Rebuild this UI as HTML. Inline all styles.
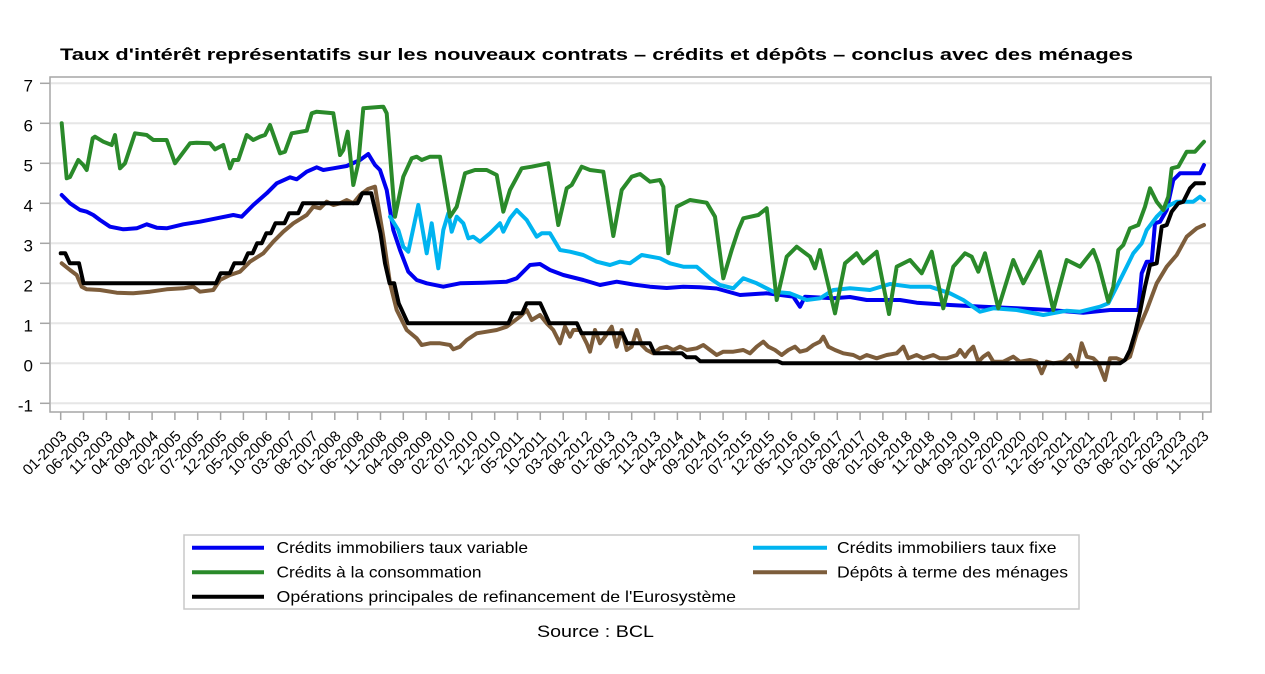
<!DOCTYPE html>
<html>
<head>
<meta charset="utf-8">
<style>
html,body{margin:0;padding:0;background:#fff;}
svg{display:block;}
text{font-family:"Liberation Sans",Arial,sans-serif;fill:#000;}
</style>
</head>
<body>
<svg width="1265" height="674" viewBox="0 0 1265 674" xmlns="http://www.w3.org/2000/svg">
<rect x="0" y="0" width="1265" height="674" fill="#fff"/>
<text x="60" y="60" font-size="17" font-weight="bold" textLength="1073" lengthAdjust="spacingAndGlyphs">Taux d'intérêt représentatifs sur les nouveaux contrats – crédits et dépôts – conclus avec des ménages</text>

<!-- grid -->
<g stroke="#e6e6e6" stroke-width="2">
<line x1="51" y1="83.3" x2="1210" y2="83.3"/>
<line x1="51" y1="123.3" x2="1210" y2="123.3"/>
<line x1="51" y1="163.3" x2="1210" y2="163.3"/>
<line x1="51" y1="203.3" x2="1210" y2="203.3"/>
<line x1="51" y1="243.3" x2="1210" y2="243.3"/>
<line x1="51" y1="283.3" x2="1210" y2="283.3"/>
<line x1="51" y1="323.3" x2="1210" y2="323.3"/>
<line x1="51" y1="363.3" x2="1210" y2="363.3"/>
<line x1="51" y1="403.3" x2="1210" y2="403.3"/>
</g>
<rect x="50" y="77" width="1161" height="335" fill="none" stroke="#a6a6a6" stroke-width="1.5"/>

<!-- y ticks -->
<g stroke="#a6a6a6" stroke-width="1.5">
<line x1="40" y1="83.3" x2="50" y2="83.3"/>
<line x1="40" y1="123.3" x2="50" y2="123.3"/>
<line x1="40" y1="163.3" x2="50" y2="163.3"/>
<line x1="40" y1="203.3" x2="50" y2="203.3"/>
<line x1="40" y1="243.3" x2="50" y2="243.3"/>
<line x1="40" y1="283.3" x2="50" y2="283.3"/>
<line x1="40" y1="323.3" x2="50" y2="323.3"/>
<line x1="40" y1="363.3" x2="50" y2="363.3"/>
<line x1="40" y1="403.3" x2="50" y2="403.3"/>
</g>
<g font-size="17" text-anchor="end">
<text x="33" y="91.6">7</text>
<text x="33" y="131.6">6</text>
<text x="33" y="171.6">5</text>
<text x="33" y="211.6">4</text>
<text x="33" y="251.6">3</text>
<text x="33" y="291.6">2</text>
<text x="33" y="331.6">1</text>
<text x="33" y="371.6">0</text>
<text x="33" y="411.6">-1</text>
</g>

<!-- x ticks -->
<path stroke="#a6a6a6" stroke-width="1.5" fill="none" d="M60.7,412v8M83.5,412v8M106.4,412v8M129.2,412v8M152.1,412v8M174.9,412v8M197.7,412v8M220.6,412v8M243.4,412v8M266.3,412v8M289.1,412v8M311.9,412v8M334.8,412v8M357.6,412v8M380.5,412v8M403.3,412v8M426.1,412v8M449,412v8M471.8,412v8M494.7,412v8M517.5,412v8M540.3,412v8M563.2,412v8M586,412v8M608.9,412v8M631.7,412v8M654.5,412v8M677.4,412v8M700.2,412v8M723.1,412v8M745.9,412v8M768.7,412v8M791.6,412v8M814.4,412v8M837.3,412v8M860.1,412v8M882.9,412v8M905.8,412v8M928.6,412v8M951.5,412v8M974.3,412v8M997.1,412v8M1020,412v8M1042.8,412v8M1065.7,412v8M1088.5,412v8M1111.3,412v8M1134.2,412v8M1157,412v8M1179.9,412v8M1202.7,412v8"/>
<g font-size="15" text-anchor="end">
<text transform="translate(67.7,437) rotate(-45)">01-2003</text>
<text transform="translate(90.5,437) rotate(-45)">06-2003</text>
<text transform="translate(113.4,437) rotate(-45)">11-2003</text>
<text transform="translate(136.2,437) rotate(-45)">04-2004</text>
<text transform="translate(159.1,437) rotate(-45)">09-2004</text>
<text transform="translate(181.9,437) rotate(-45)">02-2005</text>
<text transform="translate(204.7,437) rotate(-45)">07-2005</text>
<text transform="translate(227.6,437) rotate(-45)">12-2005</text>
<text transform="translate(250.4,437) rotate(-45)">05-2006</text>
<text transform="translate(273.3,437) rotate(-45)">10-2006</text>
<text transform="translate(296.1,437) rotate(-45)">03-2007</text>
<text transform="translate(318.9,437) rotate(-45)">08-2007</text>
<text transform="translate(341.8,437) rotate(-45)">01-2008</text>
<text transform="translate(364.6,437) rotate(-45)">06-2008</text>
<text transform="translate(387.5,437) rotate(-45)">11-2008</text>
<text transform="translate(410.3,437) rotate(-45)">04-2009</text>
<text transform="translate(433.1,437) rotate(-45)">09-2009</text>
<text transform="translate(456,437) rotate(-45)">02-2010</text>
<text transform="translate(478.8,437) rotate(-45)">07-2010</text>
<text transform="translate(501.7,437) rotate(-45)">12-2010</text>
<text transform="translate(524.5,437) rotate(-45)">05-2011</text>
<text transform="translate(547.3,437) rotate(-45)">10-2011</text>
<text transform="translate(570.2,437) rotate(-45)">03-2012</text>
<text transform="translate(593,437) rotate(-45)">08-2012</text>
<text transform="translate(615.9,437) rotate(-45)">01-2013</text>
<text transform="translate(638.7,437) rotate(-45)">06-2013</text>
<text transform="translate(661.5,437) rotate(-45)">11-2013</text>
<text transform="translate(684.4,437) rotate(-45)">04-2014</text>
<text transform="translate(707.2,437) rotate(-45)">09-2014</text>
<text transform="translate(730.1,437) rotate(-45)">02-2015</text>
<text transform="translate(752.9,437) rotate(-45)">07-2015</text>
<text transform="translate(775.7,437) rotate(-45)">12-2015</text>
<text transform="translate(798.6,437) rotate(-45)">05-2016</text>
<text transform="translate(821.4,437) rotate(-45)">10-2016</text>
<text transform="translate(844.3,437) rotate(-45)">03-2017</text>
<text transform="translate(867.1,437) rotate(-45)">08-2017</text>
<text transform="translate(889.9,437) rotate(-45)">01-2018</text>
<text transform="translate(912.8,437) rotate(-45)">06-2018</text>
<text transform="translate(935.6,437) rotate(-45)">11-2018</text>
<text transform="translate(958.5,437) rotate(-45)">04-2019</text>
<text transform="translate(981.3,437) rotate(-45)">09-2019</text>
<text transform="translate(1004.1,437) rotate(-45)">02-2020</text>
<text transform="translate(1027,437) rotate(-45)">07-2020</text>
<text transform="translate(1049.8,437) rotate(-45)">12-2020</text>
<text transform="translate(1072.7,437) rotate(-45)">05-2021</text>
<text transform="translate(1095.5,437) rotate(-45)">10-2021</text>
<text transform="translate(1118.3,437) rotate(-45)">03-2022</text>
<text transform="translate(1141.2,437) rotate(-45)">08-2022</text>
<text transform="translate(1164,437) rotate(-45)">01-2023</text>
<text transform="translate(1186.9,437) rotate(-45)">06-2023</text>
<text transform="translate(1209.7,437) rotate(-45)">11-2023</text>
</g>

<!-- series -->
<g fill="none" stroke-width="4" stroke-linejoin="round" stroke-linecap="round">
<!-- Blue: variable -->
<polyline stroke="#0000f0" points="61.7,195 70,203.3 80,210 86.7,211.7 93.3,215 100,220 110,226.7 123.3,229.3 136.7,228.3 146.7,224.3 156.7,227.7 166.7,228.3 183.3,224.3 200,221.7 216.7,218.3 233.3,215 241.7,216.7 253.3,205 266.7,193.3 276.7,183.3 290,177.3 296.7,179.3 306.7,171.7 316.7,167.3 323.3,170 333.3,168.3 346.7,166 360,160 368.3,154 375,165 380,170 386.7,190 393.3,230 400,250 408.3,271.7 416.7,280 426.7,283.3 443.3,286.7 460,283.3 483.3,282.7 506.7,281.7 516.7,278.3 530,265 540,264 550,270 563.3,275 583.3,280 600,285 616.7,281.7 633.3,284.5 650,286.7 666.7,288 683.3,286.7 700,287.3 716.7,288.5 740,295 766.7,293.3 793.3,296.7 800,306.7 805,296.7 833.3,298.3 850,297 866.7,300 883.3,300 900,300 916.7,302.7 950,305 983.3,306.7 1016.7,308.3 1050,310 1083.3,312.7 1110,310 1138.3,310 1141.7,273.3 1146.7,261.7 1151.7,261.7 1155,223.3 1160,221.7 1166.7,210 1173.3,180 1180,173.3 1200,173.3 1204,165"/>
<!-- Light blue: fixed -->
<polyline stroke="#00b4f0" points="390,216.7 398.3,230 403.3,246.7 408.3,251.7 418.3,205 426.7,253.3 431.7,223.3 438.3,268.3 443.3,230 448.3,213.3 451.7,231.7 456.7,216.7 463.3,223.3 468.3,238.3 473.3,236.7 480,241.7 490,233.3 500,223.3 503.3,231.7 510,218.3 516.7,210 526.7,220 536.7,236.7 541.7,233.3 550,233.3 560,250 570,251.7 583.3,255 596.7,261.7 610,265 620,261.7 630,263.3 641.7,255 660,258.3 670,263.3 683.3,266.7 696.7,266.7 710,278.3 720,285 733.3,288.3 743.3,278.3 756.7,283.3 773.3,291.7 790,293.3 806.7,300 820,298.3 833.3,290 850,288.3 870,290 890,284 910,286.7 930,286.7 950,293.3 963.3,300 980,311.7 993.3,308.3 1016.7,310 1043.3,315 1066.7,310.7 1080,311.7 1100,306.7 1108.3,303.3 1116.7,286.7 1126.7,266.7 1133.3,253.3 1141.7,243.3 1146.7,230 1156.7,216.7 1166.7,206.7 1176.7,201.7 1193.3,201.7 1200,196.7 1204,200"/>
<!-- Green: consumer credit -->
<polyline stroke="#2a8a2a" points="61.7,123.3 66.7,178.3 70,177 78.3,160 83.3,165 86.7,170 92.7,138.3 95,136.7 103.3,141.7 111.7,145 115,135 120,168.3 125,163.3 135,133.3 146.7,135 153.3,140 166.7,140 175,163.3 190,143.3 196.7,142.7 210,143.3 215,149.3 223.3,145 230,168.3 233.3,160 238.3,160 246.7,135 253.3,140 260,136.7 265,135 270,125 280,153.3 285,151.7 291.7,133.3 306.7,130.7 311.7,113.3 316.7,111.7 333.3,113.3 340,155 343.3,150 347.7,131.7 353.3,185 358.3,163.3 363.3,108.3 383.3,106.7 386.7,113.3 395,216.7 403.3,176.7 411.7,158.3 416.7,156.7 421.7,160 430,156.7 440,156.7 450,216.7 456.7,206.7 465,173.3 475,170 486.7,170 496.7,175 503.3,211.7 510,190 521.7,168.3 531.7,166.7 548.3,163.3 558.3,225 566.7,188.3 571.7,185 581.7,166.7 590,170 603.3,171.7 613.3,236 621.7,190 631.7,176.7 640,174 650,181.7 660,180 663.3,186.7 668.3,253.3 676.7,206.7 690,200 706.7,202.7 715,216.7 723.3,278.3 731.7,250 738.3,230 743.3,218.3 758.3,215 766.7,208.3 776.7,300 786.7,256.7 796.7,246.7 810,256.7 815,268.3 820,250 835,313.3 845,263.3 856.7,253.3 863.3,263.3 876.7,251.7 889,314 896.7,266.7 910,260 921.7,273.3 931.7,251.7 943.3,308.3 953.3,266.7 965,253.3 971.7,256.7 978.3,271.7 985,253.3 998.3,308.3 1013.3,260 1023.3,283.3 1040,251.7 1053.3,310 1066.7,260 1080,266.7 1093.3,250 1098.3,263.3 1108.3,301.7 1113.3,286.7 1118.3,250 1123.3,245 1130,228.3 1138.3,225 1145,206.7 1150,188.3 1156.7,201.7 1163.3,210 1168.3,196.7 1171.7,168.3 1178.3,166.7 1186.7,151.7 1195,151.7 1204,141.7"/>
<!-- Brown: deposits -->
<polyline stroke="#7d5d3b" points="61.7,263.3 70,270 76.7,275 81.7,286.7 86.7,289.3 100,290 116.7,292.7 133.3,293.3 150,291.7 166.7,289.3 183.3,288.3 193.3,286.7 200,291.7 213.3,290 220,280 230,275 240,271.7 250,261.7 263.3,253.3 273.3,241.7 283.3,231.7 293.3,223.3 306.7,215 313.3,206.7 320,208.3 326.7,201.7 333.3,205 340,203.3 346.7,200 353.3,203.3 360,195 368,189 375,186.7 383.3,236.7 390,283.3 396.7,310 406.7,330 416.7,338.3 421.7,345 430,343.3 440,343.3 450,345 453.3,349.3 460,346.7 466.7,340 476.7,333.3 486.7,331.7 496.7,330 506.7,326.7 513.3,321.7 520,316.7 526.7,310 531.7,320 540,315 546.7,323.3 553.3,330 560,343.3 565,326.7 570,336.7 573.3,330 580,330 586.7,343.3 590,351.7 595,330 600,343.3 605,336.7 611.7,326.7 616.7,346.7 621.7,330 626.7,350 631.7,346.7 636.7,330 641.7,345 646.7,350 653.3,353.3 660,348.3 666.7,346.7 673.3,350 680,346.7 686.7,350 696.7,348.3 703.3,345 710,350 716.7,355 723.3,351.7 733.3,351.7 743.3,350 750,353.3 756.7,346.7 763.3,341.7 768.3,346.7 775,350 781.7,355 788.3,350 795,346.7 800,351.7 806.7,350 813.3,345 820,341.7 823.3,336.7 828.3,346.7 835,350 843.3,353.3 853.3,355 860,358.3 866.7,355 876.7,358.3 886.7,355 896.7,353.3 903.3,346.7 908.3,358.3 916.7,355 923.3,358.3 933.3,355 940,358.3 946.7,358.3 956.7,355 960,350 965,356.7 968.3,351.7 973.3,346.7 978.3,361.7 983.3,356.7 988.3,353.3 993.3,361.7 1003.3,361.7 1013.3,356.7 1020,361.7 1030,360 1036.7,361.7 1041.7,373.3 1046.7,361.7 1053.3,363.3 1063.3,361.7 1070,355 1076.7,366.7 1081.7,343.3 1086.7,356.7 1093.3,358.3 1098.3,363.3 1105,380 1110,358.3 1116.7,358.3 1123.3,361 1130,356.7 1136.7,333.3 1146.7,310 1156.7,283.3 1166.7,266.7 1176.7,255 1186.7,236.7 1196.7,228.3 1204,225"/>
<!-- Black: MRO -->
<polyline stroke="#000" points="60.7,253.3 65.3,253.3 69.8,263.3 79,263.3 83.5,283.3 216,283.3 220.6,273.3 229.7,273.3 234.3,263.3 243.4,263.3 248,253.3 252.6,253.3 257.1,243.3 261.7,243.3 266.3,233.3 270.8,233.3 275.4,223.3 284.5,223.3 289.1,213.3 298.2,213.3 302.8,203.3 357.6,203.3 362.2,193.3 371.3,193.3 375.9,213.3 380.5,233.3 385,263.3 389.6,283.3 394.2,283.3 398.7,303.3 403.3,313.3 407.9,323.3 508.4,323.3 512.9,313.3 522.1,313.3 526.6,303.3 540.3,303.3 544.9,313.3 549.5,323.3 576.9,323.3 581.5,333.3 622.6,333.3 627.1,343.3 650,343.3 654.5,353.3 682,353.3 686.5,357.3 695.6,357.3 700.2,361.3 777.9,361.3 782.4,363.3 1120,363.3 1125,360 1130,350 1135,333.3 1140,311.7 1145,286.7 1150,265 1156.7,263.3 1161.7,226.7 1166.7,225 1171.7,211.7 1178.3,203.3 1183.3,201.7 1190,188.3 1195,183.3 1204,183.3"/>
</g>

<!-- legend -->
<rect x="184" y="535" width="895" height="74" fill="none" stroke="#c8c8c8" stroke-width="1.5"/>
<g stroke-width="4">
<line x1="192" y1="547.7" x2="264" y2="547.7" stroke="#0000f0"/>
<line x1="753" y1="547.7" x2="827" y2="547.7" stroke="#00b4f0"/>
<line x1="192" y1="572.3" x2="264" y2="572.3" stroke="#2a8a2a"/>
<line x1="753" y1="572.3" x2="827" y2="572.3" stroke="#7d5d3b"/>
<line x1="192" y1="596.7" x2="264" y2="596.7" stroke="#000"/>
</g>
<g font-size="16">
<text x="276.5" y="553" textLength="251.5" lengthAdjust="spacingAndGlyphs">Crédits immobiliers taux variable</text>
<text x="837" y="553" textLength="219.5" lengthAdjust="spacingAndGlyphs">Crédits immobiliers taux fixe</text>
<text x="276.5" y="577.7" textLength="205" lengthAdjust="spacingAndGlyphs">Crédits à la consommation</text>
<text x="837" y="577.7" textLength="231" lengthAdjust="spacingAndGlyphs">Dépôts à terme des ménages</text>
<text x="276.5" y="602.2" textLength="459.5" lengthAdjust="spacingAndGlyphs">Opérations principales de refinancement de l'Eurosystème</text>
</g>
<text x="537" y="637" font-size="17" textLength="117" lengthAdjust="spacingAndGlyphs">Source : BCL</text>
</svg>
</body>
</html>
